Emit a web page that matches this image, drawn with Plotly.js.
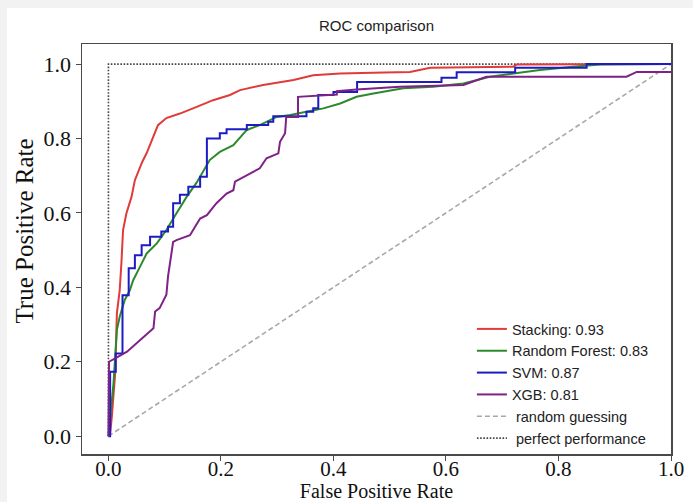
<!DOCTYPE html>
<html>
<head>
<meta charset="utf-8">
<script src="https://cdn.plot.ly/plotly-3.0.1.min.js"></script>
<style>
  html, body { margin: 0; padding: 0; background: #f2f2f2; width: 693px; height: 502px; overflow: hidden; }
  #plot { position: absolute; left: 7px; top: 8px; width: 686px; height: 494px; background: #ffffff; }
</style>
</head>
<body>
<div id="plot"></div>
<script>
// ---- data ----
const chartTitle = "ROC comparison";
const xTitle = "False Positive Rate";
const yTitle = "True Positive Rate";
const tickVals = [0, 0.2, 0.4, 0.6, 0.8, 1.0];
const tickText = ["0.0", "0.2", "0.4", "0.6", "0.8", "1.0"];

const seriesNames = ["Stacking: 0.93", "Random Forest: 0.83", "SVM: 0.87", "XGB: 0.81"];
const refNames = ["\u00a0random guessing", "\u00a0perfect performance"];

const fprStacking = [0, 0.003, 0.006, 0.009, 0.012, 0.015, 0.020, 0.023, 0.026, 0.032, 0.041, 0.047, 0.052, 0.060, 0.068, 0.077, 0.088, 0.103, 0.127, 0.157, 0.186, 0.216, 0.234, 0.275, 0.305, 0.329, 0.364, 0.412, 0.470, 0.536, 0.572, 0.650, 0.720, 0.726, 0.850, 1.0];
const tprStacking = [0, 0.007, 0.052, 0.106, 0.169, 0.330, 0.392, 0.464, 0.554, 0.599, 0.643, 0.688, 0.707, 0.737, 0.761, 0.796, 0.836, 0.855, 0.867, 0.885, 0.903, 0.917, 0.930, 0.944, 0.952, 0.957, 0.970, 0.975, 0.977, 0.979, 0.990, 0.991, 0.993, 0.999, 1.0, 1.0];

const fprForest = [0, 0.003, 0.006, 0.009, 0.012, 0.015, 0.020, 0.029, 0.038, 0.044, 0.056, 0.068, 0.086, 0.103, 0.121, 0.139, 0.157, 0.168, 0.180, 0.198, 0.222, 0.246, 0.269, 0.299, 0.323, 0.352, 0.382, 0.412, 0.441, 0.471, 0.524, 0.577, 0.631, 0.678, 0.720, 0.767, 0.826, 0.874, 1.0];
const tprForest = [0, 0.043, 0.097, 0.142, 0.213, 0.285, 0.321, 0.366, 0.392, 0.419, 0.455, 0.491, 0.518, 0.554, 0.599, 0.643, 0.682, 0.710, 0.742, 0.764, 0.782, 0.823, 0.836, 0.858, 0.863, 0.872, 0.881, 0.894, 0.912, 0.921, 0.935, 0.939, 0.948, 0.966, 0.975, 0.984, 0.993, 0.999, 1.0];

const fprSVM = [0, 0.003, 0.003, 0.013, 0.013, 0.025, 0.025, 0.036, 0.036, 0.047, 0.047, 0.059, 0.059, 0.074, 0.074, 0.094, 0.094, 0.106, 0.106, 0.115, 0.115, 0.127, 0.127, 0.142, 0.142, 0.163, 0.163, 0.175, 0.175, 0.198, 0.198, 0.210, 0.210, 0.246, 0.246, 0.284, 0.284, 0.293, 0.293, 0.352, 0.352, 0.364, 0.364, 0.373, 0.373, 0.400, 0.400, 0.442, 0.442, 0.592, 0.592, 0.619, 0.619, 0.723, 0.723, 0.850, 0.850, 1.0];
const tprSVM = [0, 0, 0.173, 0.173, 0.222, 0.222, 0.379, 0.379, 0.451, 0.451, 0.486, 0.486, 0.513, 0.513, 0.536, 0.536, 0.550, 0.550, 0.563, 0.563, 0.626, 0.626, 0.649, 0.649, 0.670, 0.670, 0.697, 0.697, 0.800, 0.800, 0.814, 0.814, 0.825, 0.825, 0.836, 0.836, 0.845, 0.845, 0.860, 0.860, 0.872, 0.872, 0.881, 0.881, 0.917, 0.917, 0.925, 0.925, 0.952, 0.952, 0.963, 0.963, 0.978, 0.978, 0.990, 0.990, 1.0, 1.0];

const fprXGB = [0, 0.001, 0.012, 0.033, 0.080, 0.083, 0.091, 0.103, 0.106, 0.112, 0.115, 0.121, 0.145, 0.154, 0.163, 0.175, 0.192, 0.210, 0.222, 0.225, 0.255, 0.269, 0.281, 0.302, 0.305, 0.314, 0.316, 0.337, 0.337, 0.406, 0.406, 0.441, 0.518, 0.631, 0.672, 0.921, 0.939, 1.0];
const tprXGB = [0, 0.200, 0.209, 0.227, 0.290, 0.335, 0.344, 0.380, 0.430, 0.491, 0.522, 0.527, 0.540, 0.563, 0.585, 0.594, 0.626, 0.652, 0.661, 0.684, 0.710, 0.720, 0.747, 0.760, 0.791, 0.814, 0.858, 0.858, 0.912, 0.918, 0.927, 0.932, 0.939, 0.944, 0.966, 0.966, 0.979, 0.979];

const fprRandom = [0, 1];
const tprRandom = [0, 1];
const fprPerfect = [0, 0, 1];
const tprPerfect = [0, 1, 1];

const seriesColors = ["#e03a3a", "#2c8a2c", "#1c1cc4", "#7e2288"];

// ---- build traces ----
const traces = [
  { x: fprRandom, y: tprRandom, name: refNames[0], mode: "lines",
    line: { color: "#a8a8a8", width: 1.6, dash: "5px,3px" }, legendrank: 5 },
  { x: fprPerfect, y: tprPerfect, name: refNames[1], mode: "lines",
    line: { color: "#444444", width: 1.6, dash: "1.6px,1.6px" }, legendrank: 6 },
  { x: fprStacking, y: tprStacking, name: seriesNames[0], mode: "lines",
    line: { color: seriesColors[0], width: 2 }, legendrank: 1 },
  { x: fprForest, y: tprForest, name: seriesNames[1], mode: "lines",
    line: { color: seriesColors[1], width: 2 }, legendrank: 2 },
  { x: fprSVM, y: tprSVM, name: seriesNames[2], mode: "lines",
    line: { color: seriesColors[2], width: 2 }, legendrank: 3 },
  { x: fprXGB, y: tprXGB, name: seriesNames[3], mode: "lines",
    line: { color: seriesColors[3], width: 2 }, legendrank: 4 }
];

const axisCommon = {
  showgrid: false, zeroline: false,
  showline: true, mirror: true, linecolor: "#4a4a4a", linewidth: 1.5,
  ticks: "outside", ticklen: 5, tickwidth: 1, tickcolor: "#4a4a4a",
  tickvals: tickVals, ticktext: tickText,
  tickfont: { family: "Liberation Serif", size: 21, color: "#111111" },
  automargin: false
};

const layout = {
  width: 686, height: 494,
  margin: { l: 75, r: 22, t: 36, b: 48 },
  paper_bgcolor: "#ffffff", plot_bgcolor: "#ffffff",
  title: { text: chartTitle, x: 0.5, xref: "paper", xanchor: "center",
           y: 1, yref: "container", yanchor: "top", pad: { t: 12 },
           font: { family: "Liberation Sans", size: 15, color: "#222222" } },
  xaxis: Object.assign({}, axisCommon, {
    range: [-0.047, 1.0],
    ticklabelstandoff: -10,
    title: { text: xTitle, standoff: 2, font: { family: "Liberation Serif", size: 20, color: "#111111" } }
  }),
  yaxis: Object.assign({}, axisCommon, {
    range: [-0.048, 1.054],
    tickfont: { family: "Liberation Serif", size: 22, color: "#111111" }
  }),
  annotations: [{
    text: yTitle, textangle: -90, showarrow: false,
    xref: "paper", yref: "paper", x: -0.0968, y: 0.545,
    xanchor: "center", yanchor: "middle",
    font: { family: "Liberation Serif", size: 25, color: "#111111" }
  }],
  showlegend: true,
  legend: {
    x: 0.662, y: 0.344, xanchor: "left", yanchor: "top",
    bgcolor: "rgba(0,0,0,0)", borderwidth: 0,
    font: { family: "Liberation Sans", size: 14.5, color: "#222222" },
    tracegroupgap: 0, traceorder: "normal"
  }
};

Plotly.newPlot("plot", traces, layout, { displayModeBar: false, staticPlot: true });
</script>
</body>
</html>
